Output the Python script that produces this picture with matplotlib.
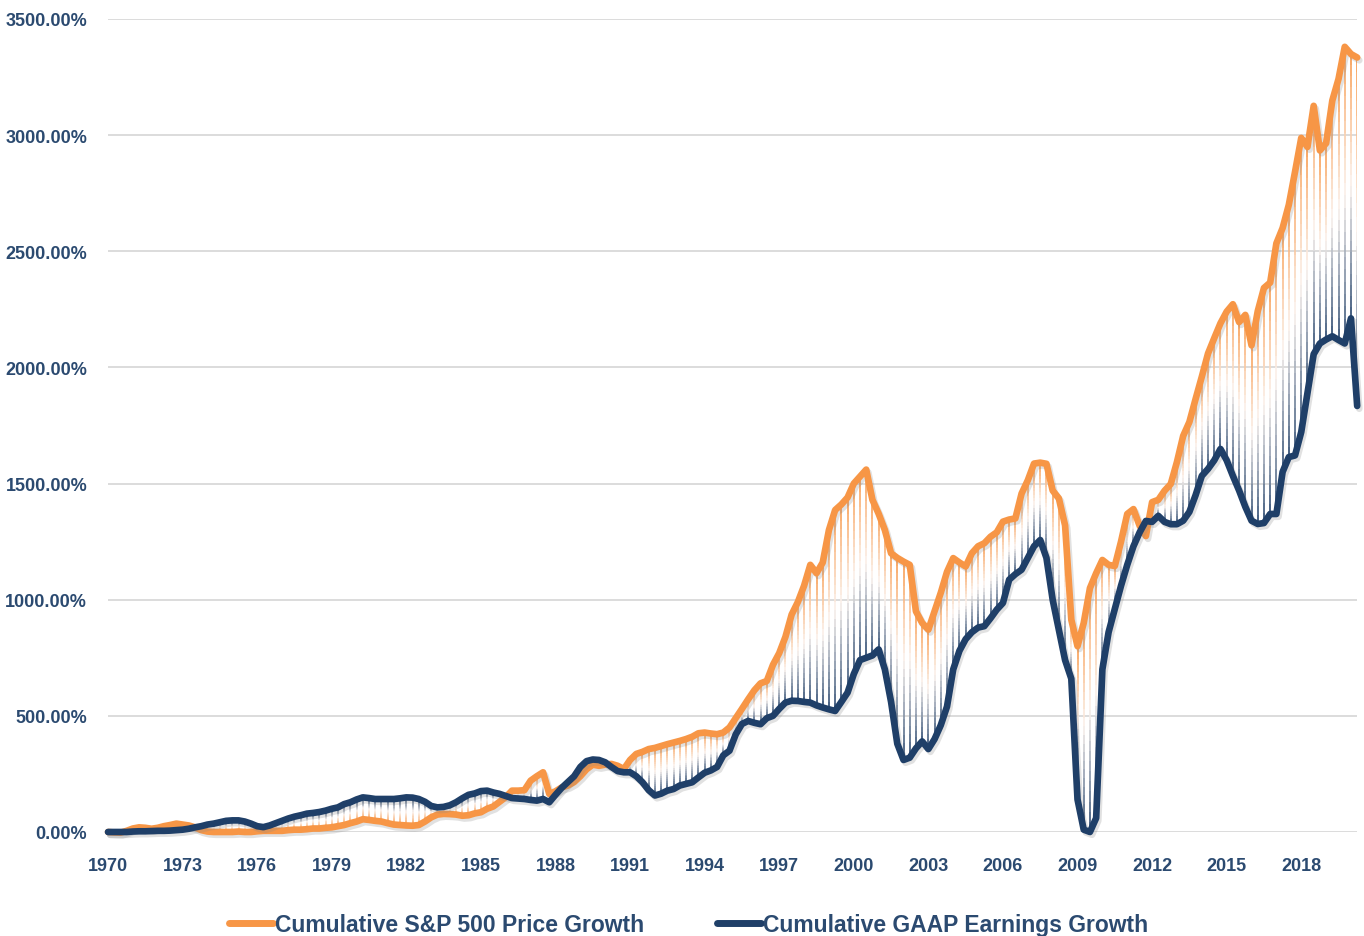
import numpy as np
import matplotlib
matplotlib.use("Agg")
import matplotlib.pyplot as plt
from matplotlib.collections import LineCollection
from matplotlib.colors import LinearSegmentedColormap
import matplotlib.patheffects as pe

# quarterly, 1970 Q1 .. 2020 Q2
start_year = 1970
sp_growth = [
    0, -2, -3, 5,            # 1970
    15, 20, 18, 14,          # 1971
    18, 25, 30, 36,          # 1972
    32, 28, 20, 8,           # 1973
    2, 0, 0, 0,              # 1974
    0, 2, 0, 0,              # 1975
    3, 5, 5, 5,              # 1976
    5, 8, 10, 10,            # 1977
    12, 15, 15, 18,          # 1978
    20, 25, 30, 38,          # 1979
    45, 55, 52, 48,          # 1980
    45, 38, 32, 30,          # 1981
    28, 27, 30, 45,          # 1982
    63, 75, 78, 77,          # 1983
    75, 70, 72, 80,          # 1984
    85, 100, 110, 130,       # 1985
    150, 178, 178, 180,      # 1986
    221, 240, 257, 164,      # 1987
    175, 192, 200, 215,      # 1988
    240, 270, 290, 285,      # 1989
    290, 293, 285, 271,      # 1990
    310, 336, 345, 357,      # 1991
    362, 370, 378, 385,      # 1992
    392, 400, 410, 425,      # 1993
    428, 424, 421, 428,      # 1994
    450, 490, 530, 571,      # 1995
    610, 640, 650, 720,      # 1996
    770, 840, 936, 990,      # 1997
    1060, 1150, 1114, 1160,  # 1998
    1300, 1386, 1410, 1440,  # 1999
    1500, 1530, 1560, 1430,  # 2000
    1370, 1300, 1200, 1180,  # 2001
    1164, 1150, 950, 900,    # 2002
    871, 950, 1030, 1120,    # 2003
    1179, 1160, 1143, 1200,  # 2004
    1230, 1243, 1271, 1290,  # 2005
    1336, 1345, 1350, 1457,  # 2006
    1514, 1586, 1590, 1585,  # 2007
    1470, 1436, 1320, 914,   # 2008
    800, 900, 1050, 1114,    # 2009
    1171, 1150, 1145, 1250,  # 2010
    1369, 1390, 1318, 1274,  # 2011
    1420, 1430, 1469, 1498,  # 2012
    1593, 1705, 1765, 1864,  # 2013
    1960, 2060, 2126, 2190,  # 2014
    2240, 2272, 2195, 2226,  # 2015
    2095, 2242, 2342, 2365,  # 2016
    2534, 2600, 2700, 2842,  # 2017
    2988, 2949, 3126, 2934,  # 2018
    2965, 3149, 3242, 3380,  # 2019
    3349, 3334,              # 2020
]
gaap_growth = [
    0, 0, 0, 0,              # 1970
    2, 3, 3, 4,              # 1971
    5, 5, 6, 8,              # 1972
    10, 14, 20, 25,          # 1973
    32, 36, 42, 48,          # 1974
    50, 50, 45, 36,          # 1975
    25, 21, 28, 38,          # 1976
    48, 58, 66, 72,          # 1977
    79, 82, 86, 92,          # 1978
    100, 106, 120, 128,      # 1979
    140, 149, 146, 142,      # 1980
    142, 142, 142, 145,      # 1981
    149, 148, 142, 130,      # 1982
    112, 106, 108, 115,      # 1983
    128, 145, 160, 166,      # 1984
    176, 178, 170, 164,      # 1985
    155, 146, 144, 142,      # 1986
    138, 135, 142, 128,      # 1987
    160, 190, 215, 240,      # 1988
    280, 305, 312, 310,      # 1989
    300, 280, 262, 257,      # 1990
    257, 240, 214, 180,      # 1991
    157, 165, 178, 185,      # 1992
    200, 207, 214, 235,      # 1993
    255, 265, 280, 330,      # 1994
    350, 420, 465, 478,      # 1995
    470, 464, 490, 500,      # 1996
    530, 557, 565, 564,      # 1997
    560, 557, 545, 536,      # 1998
    528, 521, 560, 600,      # 1999
    680, 740, 750, 760,      # 2000
    786, 700, 560, 380,      # 2001
    310, 320, 360, 390,      # 2002
    357, 400, 460, 540,      # 2003
    700, 780, 830, 860,      # 2004
    880, 886, 920, 957,      # 2005
    986, 1086, 1110, 1129,   # 2006
    1180, 1230, 1257, 1180,  # 2007
    1000, 870, 740, 660,     # 2008
    140, 10, 0, 60,          # 2009
    700, 860, 960, 1060,     # 2010
    1150, 1230, 1290, 1339,  # 2011
    1335, 1361, 1335, 1325,  # 2012
    1325, 1340, 1378, 1450,  # 2013
    1533, 1563, 1600, 1649,  # 2014
    1600, 1533, 1470, 1400,  # 2015
    1340, 1326, 1330, 1369,  # 2016
    1369, 1550, 1614, 1621,  # 2017
    1722, 1888, 2057, 2103,  # 2018
    2120, 2134, 2118, 2103,  # 2019
    2211, 1834,              # 2020
]
tick_years = list(range(1970, 2019, 3))
y_ticks = [0, 500, 1000, 1500, 2000, 2500, 3000, 3500]

orange = "#F79646"
navy = "#1F3F68"
label_col = "#2B4A70"
font = ["Liberation Sans", "DejaVu Sans"]

sp = np.array(sp_growth, dtype=float)
ea = np.array(gaap_growth, dtype=float)
t = start_year + np.arange(len(sp)) / 4.0

fig = plt.figure(figsize=(13.64, 9.37), dpi=100)
ax = fig.add_axes([0.0792, 0.111, 0.9158, 0.8677])

# high-low style drop lines, orange at the price end fading to navy at the earnings end
cmap = LinearSegmentedColormap.from_list("hl", [orange, "#FBF3EE", navy])
n = 24
segs, cols = [], []
for x, a, b in zip(t, sp, ea):
    ys = np.linspace(a, b, n + 1)
    for k in range(n):
        segs.append([(x, ys[k]), (x, ys[k + 1])])
        cols.append(cmap((k + 0.5) / n))
ax.add_collection(LineCollection(segs, colors=cols, linewidths=1.2, zorder=2))

shadow = [pe.SimpleLineShadow(offset=(1.5, -2), shadow_color="#888888", alpha=0.25), pe.Normal()]
ax.plot(t, sp, color=orange, lw=4.8, solid_capstyle="round", solid_joinstyle="round",
        label="Cumulative S&P 500 Price Growth", zorder=3, clip_on=False, path_effects=shadow)
ax.plot(t, ea, color=navy, lw=4.8, solid_capstyle="round", solid_joinstyle="round",
        label="Cumulative GAAP Earnings Growth", zorder=4, clip_on=False, path_effects=shadow)

ax.set_xlim(1970, 2020.25)
ax.set_ylim(0, 3500)
ax.set_yticks(y_ticks)
ax.set_yticklabels([f"{v:.2f}%" for v in y_ticks])
ax.set_xticks(tick_years)
ax.set_xticklabels([str(y) for y in tick_years])
ax.grid(axis="y", color="#D9D9D9", lw=1.3, zorder=0)
ax.set_axisbelow(True)
for s in ax.spines.values():
    s.set_visible(False)
ax.tick_params(length=0)
ax.tick_params(axis="y", pad=15)
ax.tick_params(axis="x", pad=18)
for lab in ax.get_xticklabels() + ax.get_yticklabels():
    lab.set_family(font)
    lab.set_fontweight("bold")
    lab.set_fontsize(13)
    lab.set_color(label_col)

leg = fig.legend(loc="center", bbox_to_anchor=(0.505, 0.012), ncol=2, frameon=False,
                 handlelength=1.9, handletextpad=0.1, columnspacing=3.2,
                 prop={"family": font, "weight": "bold", "size": 16.5})
for txt in leg.get_texts():
    txt.set_color(label_col)
for h in leg.get_lines():
    h.set_path_effects([])
    h.set_linewidth(5)

fig.savefig("out.png", dpi=100)
